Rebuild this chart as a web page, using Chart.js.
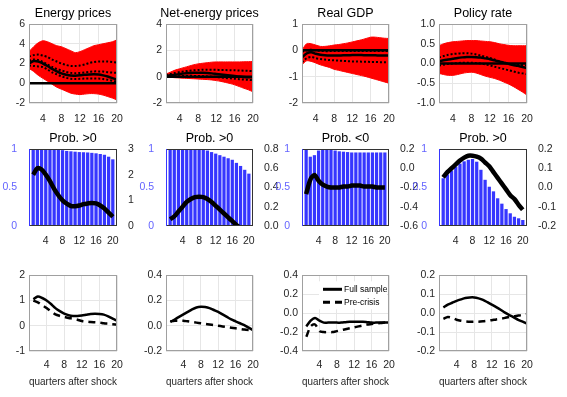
<!DOCTYPE html>
<html lang="en">
<head>
<meta charset="UTF-8">
<title>Energy price shock responses</title>
<script src="https://cdn.jsdelivr.net/npm/chart.js"></script>
<style>
  body { margin: 0; background: #fff; width: 567px; height: 397px; position: relative; overflow: hidden; }
  canvas { position: absolute; }
</style>
</head>
<body>
<script>
// ---- data ----
const quarters = [1, 2, 3, 4, 5, 6, 7, 8, 9, 10, 11, 12, 13, 14, 15, 16, 17, 18, 19, 20];
const xTicks = [4, 8, 12, 16, 20];

const titlesTop = ['Energy prices', 'Net-energy prices', 'Real GDP', 'Policy rate'];
const titlesMid = ['Prob. >0', 'Prob. >0', 'Prob. <0', 'Prob. >0'];
const xAxisTitle = 'quarters after shock';
const seriesNames = ['Full sample', 'Pre-crisis'];

// top row: y tick labels
const yTicksTop = [
  ['-2', '0', '2', '4', '6'],
  ['-2', '0', '2', '4'],
  ['-2', '-1', '0', '1'],
  ['-1.0', '-0.5', '0.0', '0.5', '1.0']
];
// middle row: left (probability) and right (response) tick labels
const yTicksProb = ['0', '0.5', '1'];
const yTicksMidRight = [
  ['0', '1', '2', '3'],
  ['0.0', '0.2', '0.4', '0.6', '0.8'],
  ['-0.6', '-0.4', '-0.2', '0.0', '0.2'],
  ['-0.2', '-0.1', '0.0', '0.1', '0.2']
];
// bottom row tick labels
const yTicksBottom = [
  ['-1', '0', '1', '2'],
  ['-0.2', '0.0', '0.2', '0.4'],
  ['-0.4', '-0.2', '0.0', '0.2', '0.4'],
  ['-0.2', '-0.1', '0.0', '0.1', '0.2']
];

// median responses (shown in top row and as line in middle row)
const medEnergy = [2.0, 2.25, 2.2, 2.0, 1.75, 1.45, 1.2, 1.0, 0.87, 0.78, 0.77, 0.8, 0.85, 0.88, 0.9, 0.88, 0.8, 0.68, 0.52, 0.36];
const medNet = [0.07, 0.1, 0.15, 0.2, 0.25, 0.28, 0.3, 0.305, 0.3, 0.28, 0.25, 0.21, 0.17, 0.13, 0.09, 0.05, 0.01, -0.02, -0.04, -0.05];
const medGdp = [-0.27, -0.12, -0.07, -0.13, -0.17, -0.19, -0.2, -0.2, -0.2, -0.19, -0.19, -0.18, -0.18, -0.18, -0.19, -0.19, -0.19, -0.2, -0.2, -0.2];
const medRate = [0.053, 0.08, 0.1, 0.12, 0.14, 0.155, 0.165, 0.165, 0.16, 0.15, 0.13, 0.11, 0.08, 0.05, 0.02, -0.01, -0.04, -0.06, -0.09, -0.115];

// red bands (upper / lower envelope)
const hiEnergy = [3.2, 3.7, 4.1, 4.3, 4.2, 4.0, 3.8, 3.7, 3.5, 3.3, 3.1, 3.2, 3.4, 3.6, 3.8, 3.9, 4.0, 4.1, 4.2, 4.4];
const loEnergy = [1.5, 1.2, 0.8, 0.5, 0.2, -0.1, -0.4, -0.6, -0.8, -1.0, -1.1, -1.15, -1.1, -1.05, -1.05, -1.1, -1.2, -1.35, -1.5, -1.7];
const hiNet = [0.2, 0.35, 0.5, 0.6, 0.7, 0.8, 0.9, 0.97, 1.02, 1.06, 1.1, 1.12, 1.12, 1.12, 1.12, 1.12, 1.12, 1.13, 1.14, 1.15];
const loNet = [-0.02, -0.05, -0.08, -0.1, -0.12, -0.14, -0.16, -0.18, -0.2, -0.22, -0.25, -0.3, -0.36, -0.44, -0.52, -0.62, -0.75, -0.88, -1.0, -1.15];
const hiGdp = [0.0, 0.25, 0.25, 0.2, 0.15, 0.15, 0.17, 0.2, 0.22, 0.25, 0.28, 0.32, 0.36, 0.4, 0.45, 0.5, 0.5, 0.48, 0.46, 0.45];
const loGdp = [-0.55, -0.4, -0.42, -0.48, -0.55, -0.6, -0.65, -0.72, -0.76, -0.8, -0.84, -0.88, -0.92, -0.96, -1.0, -1.05, -1.1, -1.15, -1.2, -1.25];
const hiRate = [0.45, 0.5, 0.53, 0.55, 0.56, 0.57, 0.58, 0.58, 0.58, 0.57, 0.56, 0.55, 0.53, 0.5, 0.48, 0.46, 0.45, 0.45, 0.45, 0.45];
const loRate = [-0.25, -0.28, -0.3, -0.3, -0.28, -0.25, -0.23, -0.22, -0.24, -0.28, -0.32, -0.35, -0.38, -0.42, -0.47, -0.52, -0.58, -0.65, -0.72, -0.8];

// dotted percentile lines
const dotsEnergy = [
  [2.7, 2.85, 2.9, 2.8, 2.65, 2.4, 2.2, 2.0, 1.85, 1.75, 1.75, 1.8, 1.9, 2.05, 2.15, 2.2, 2.2, 2.2, 2.15, 2.1],
  [2.3, 2.4, 2.35, 2.15, 1.9, 1.65, 1.45, 1.3, 1.15, 1.05, 1.02, 1.05, 1.1, 1.15, 1.2, 1.2, 1.18, 1.12, 1.08, 1.05],
  [1.8, 1.75, 1.7, 1.65, 1.4, 1.1, 0.9, 0.7, 0.55, 0.45, 0.43, 0.45, 0.47, 0.48, 0.48, 0.47, 0.42, 0.35, 0.25, 0.15]
];
const dotsNet = [
  [0.12, 0.2, 0.28, 0.35, 0.4, 0.45, 0.48, 0.5, 0.52, 0.52, 0.52, 0.52, 0.51, 0.5, 0.49, 0.48, 0.47, 0.45, 0.44, 0.42],
  [0.02, 0.02, 0.03, 0.04, 0.05, 0.06, 0.06, 0.05, 0.04, 0.02, 0.0, -0.03, -0.06, -0.1, -0.13, -0.16, -0.19, -0.22, -0.24, -0.26]
];
const dotsGdp = [
  [-0.05, 0.0, 0.02, 0.0, -0.02, -0.03, -0.03, -0.03, -0.03, -0.03, -0.03, -0.03, -0.03, -0.03, -0.03, -0.03, -0.03, -0.03, -0.03, -0.03],
  [-0.45, -0.3, -0.25, -0.3, -0.33, -0.35, -0.37, -0.38, -0.39, -0.4, -0.41, -0.42, -0.42, -0.43, -0.43, -0.44, -0.44, -0.45, -0.45, -0.45]
];
const dotsRate = [
  [0.15, 0.19, 0.22, 0.24, 0.25, 0.26, 0.26, 0.25, 0.23, 0.2, 0.17, 0.14, 0.1, 0.06, 0.03, 0.0, -0.02, -0.03, -0.04, -0.05],
  [-0.05, -0.03, -0.01, 0.0, 0.01, 0.02, 0.02, 0.02, 0.01, 0.0, -0.02, -0.05, -0.08, -0.11, -0.14, -0.17, -0.2, -0.23, -0.25, -0.27]
];

// probabilities (bars, middle row)
const probEnergy = [1, 1, 1, 1, 1, 1, 1, 0.985, 0.975, 0.97, 0.965, 0.96, 0.958, 0.955, 0.95, 0.944, 0.935, 0.925, 0.9, 0.866];
const probNet = [1, 1, 1, 1, 1, 1, 1, 1, 0.99, 0.98, 0.96, 0.94, 0.92, 0.9, 0.88, 0.86, 0.82, 0.78, 0.73, 0.68];
const probGdp = [1, 0.9, 0.92, 0.98, 0.99, 0.99, 0.99, 0.98, 0.97, 0.965, 0.96, 0.955, 0.955, 0.955, 0.955, 0.955, 0.955, 0.955, 0.955, 0.955];
const probRate = [0.62, 0.67, 0.72, 0.77, 0.81, 0.84, 0.86, 0.87, 0.835, 0.73, 0.6, 0.51, 0.45, 0.36, 0.29, 0.22, 0.165, 0.12, 0.1, 0.078];

// bottom row: full sample vs pre-crisis
const fullEnergy = [1.05, 1.16, 1.1, 1.0, 0.86, 0.7, 0.58, 0.48, 0.42, 0.39, 0.39, 0.41, 0.44, 0.47, 0.48, 0.47, 0.44, 0.37, 0.28, 0.2];
const preEnergy = [1.0, 0.93, 0.82, 0.7, 0.57, 0.45, 0.39, 0.35, 0.31, 0.28, 0.24, 0.19, 0.17, 0.15, 0.14, 0.13, 0.1, 0.08, 0.06, 0.05];
const fullNet = [0.03, 0.05, 0.07, 0.09, 0.11, 0.13, 0.145, 0.15, 0.148, 0.14, 0.125, 0.11, 0.09, 0.07, 0.05, 0.035, 0.02, 0.005, -0.015, -0.035];
const preNet = [0.035, 0.04, 0.04, 0.04, 0.035, 0.03, 0.025, 0.02, 0.015, 0.01, 0.005, 0.0, -0.005, -0.01, -0.015, -0.02, -0.025, -0.03, -0.033, -0.035];
const fullGdp = [-0.14, -0.08, -0.05, -0.08, -0.1, -0.1, -0.1, -0.1, -0.1, -0.095, -0.09, -0.09, -0.09, -0.09, -0.095, -0.1, -0.1, -0.1, -0.1, -0.1];
const preGdp = [-0.25, -0.14, -0.12, -0.19, -0.2, -0.2, -0.2, -0.19, -0.18, -0.17, -0.16, -0.15, -0.14, -0.13, -0.12, -0.115, -0.11, -0.105, -0.1, -0.1];
const fullRate = [0.03, 0.045, 0.055, 0.065, 0.073, 0.08, 0.083, 0.083, 0.078, 0.07, 0.058, 0.045, 0.032, 0.018, 0.003, -0.01, -0.022, -0.035, -0.045, -0.055];
const preRate = [-0.03, -0.02, -0.025, -0.035, -0.04, -0.043, -0.045, -0.045, -0.045, -0.043, -0.04, -0.037, -0.033, -0.03, -0.025, -0.02, -0.017, -0.013, -0.01, -0.005];

// ---- layout / style ----
const FONT = "'Liberation Sans Narrow', 'Arial Narrow', 'Liberation Sans', sans-serif";
const colLeft = [29, 166, 302, 439];
const colWidth = [88, 87, 87, 88];
const rowTop = [24, 149, 273];
const rowHeight = [79, 77, 78];
const xRange = [[1, 20], [0, 21], [0, 20]];
const xLabelPad = [10, 9, 8];
const SIDE_W = 30;   // axis width on both sides so titles centre on the plot
const TICK_SIZE = 10.5;

Chart.defaults.font.family = FONT;
Chart.defaults.elements.point.radius = 0;
Chart.defaults.elements.line.tension = 0.3;

const xy = arr => arr.map((v, i) => ({ x: quarters[i], y: v }));

// frame around plot area + optional inside legend
const framePlugin = {
  id: 'frame',
  afterDatasetsDraw(chart, args, opts) {
    const { ctx, chartArea: a } = chart;
    ctx.save();
    ctx.lineWidth = 1;
    ctx.strokeStyle = opts.color || '#a0a0a0';
    ctx.strokeRect(Math.round(a.left) + 0.5, Math.round(a.top) + 0.5,
      Math.round(a.width) - 1, Math.round(a.height) - 1);
    if (opts.leftColor) {
      ctx.strokeStyle = opts.leftColor;
      ctx.beginPath();
      ctx.moveTo(Math.round(a.left) + 0.5, a.top);
      ctx.lineTo(Math.round(a.left) + 0.5, a.bottom);
      ctx.stroke();
    }
    if (opts.legend) {
      ctx.fillStyle = '#fff';
      ctx.fillRect(a.left + 17, a.top + 6, a.width - 19, 28);
      ctx.font = '8.5px ' + FONT;
      ctx.textBaseline = 'middle';
      chart.data.datasets.forEach((ds, i) => {
        const y = a.top + 14 + i * 13;
        ctx.strokeStyle = '#000';
        ctx.lineWidth = 3;
        ctx.setLineDash(ds.borderDash || []);
        ctx.beginPath();
        ctx.moveTo(a.left + 21, y);
        ctx.lineTo(a.left + 40, y);
        ctx.stroke();
        ctx.setLineDash([]);
        ctx.fillStyle = '#000';
        ctx.fillText(ds.label, a.left + 42, y);
      });
    }
    ctx.restore();
  }
};

function yScale(labels, opts) {
  const vals = labels.map(Number);
  return Object.assign({
    min: vals[0],
    max: vals[vals.length - 1],
    afterBuildTicks: s => { s.ticks = vals.map(v => ({ value: v })); },
    afterFit: s => { s.width = SIDE_W; },
    grid: { color: '#e6e6e6', drawTicks: false },
    border: { display: false },
    ticks: { padding: 4, color: '#262626', font: { size: TICK_SIZE }, callback: (v, i) => labels[i] }
  }, opts);
}

function makePanel(row, col, datasets, yLabels, extra) {
  const w = colWidth[col], h = rowHeight[row];
  const topH = row < 2 ? 20 : 8;
  const bottomH = row === 2 ? 42 : 20;
  const cv = document.createElement('canvas');
  cv.width = SIDE_W + w + SIDE_W;
  cv.height = topH + h + bottomH;
  cv.style.left = (colLeft[col] - SIDE_W) + 'px';
  cv.style.top = (rowTop[row] - topH) + 'px';
  document.body.appendChild(cv);

  const scales = {
    x: {
      type: 'linear',
      min: xRange[row][0],
      max: xRange[row][1],
      offset: false,
      afterBuildTicks: s => { s.ticks = xTicks.map(v => ({ value: v })); },
      afterFit: s => { s.height = bottomH; },
      grid: { display: row !== 1, color: '#e6e6e6', drawTicks: false, offset: false },
      border: { display: false },
      ticks: { padding: xLabelPad[row], color: '#262626', font: { size: TICK_SIZE }, maxRotation: 0, autoSkip: false },
      title: {
        display: row === 2, text: xAxisTitle, color: '#262626',
        font: { size: 10.5 }, padding: { top: 0, bottom: 5 }
      }
    },
    y: yScale(yLabels, row === 1 ? {
      grid: { display: false },
      ticks: { padding: 4, color: '#6464ff', font: { size: TICK_SIZE }, callback: (v, i) => yLabels[i] }
    } : {})
  };
  const r = extra && extra.right;
  // right axis: real labels in the middle row, an empty spacer elsewhere
  scales.y2 = yScale(r || ['0', '1'], {
    position: 'right',
    grid: { display: false },
    ticks: r
      ? { padding: 3, color: '#262626', font: { size: TICK_SIZE }, callback: (v, i) => r[i] }
      : { display: false }
  });

  new Chart(cv.getContext('2d'), {
    type: row === 1 ? 'bar' : 'line',
    data: { datasets },
    options: {
      responsive: false,
      animation: false,
      layout: { padding: { top: row === 2 ? 8 : 0, right: 0, left: 0, bottom: 0 } },
      scales,
      plugins: {
        legend: { display: false },
        tooltip: { enabled: false },
        title: {
          display: row < 2,
          text: extra && extra.title,
          color: '#000',
          font: { size: 12.5, weight: 'normal', lineHeight: 1 },
          padding: { top: 3, bottom: 4.5 }
        },
        frame: {
          color: row === 1 ? '#333' : '#a0a0a0',
          leftColor: row === 1 ? '#3636ff' : null,
          legend: extra && extra.legend
        }
      }
    },
    plugins: [framePlugin]
  });
}

function bandSets(hi, lo, dots, med) {
  return [
    { data: xy(med), borderColor: '#000', borderWidth: 2.5, order: 1 },
    ...dots.map(d => ({ data: xy(d), borderColor: '#000', borderWidth: 2, borderDash: [2, 2], order: 2 })),
    { data: xy(hi.map(() => 0)), borderColor: '#000', borderWidth: 2.5, tension: 0, order: 3 },
    { data: xy(hi), borderColor: '#ff0000', borderWidth: 1, backgroundColor: '#ff0000', fill: '+1', order: 4 },
    { data: xy(lo), borderColor: '#ff0000', borderWidth: 1, order: 5 }
  ];
}

function probSets(prob, line) {
  return [
    { type: 'line', data: xy(line), yAxisID: 'y2', borderColor: '#000', borderWidth: 4.5, order: 0 },
    { type: 'bar', data: xy(prob), yAxisID: 'y', backgroundColor: '#3636ff',
      barPercentage: 0.78, categoryPercentage: 1, order: 1 }
  ];
}

function compareSets(full, pre) {
  return [
    { label: seriesNames[0], data: xy(full), borderColor: '#000', borderWidth: 2.5 },
    { label: seriesNames[1], data: xy(pre), borderColor: '#000', borderWidth: 2.5, borderDash: [7, 5] }
  ];
}

// top row
makePanel(0, 0, bandSets(hiEnergy, loEnergy, dotsEnergy, medEnergy), yTicksTop[0], { title: titlesTop[0] });
makePanel(0, 1, bandSets(hiNet, loNet, dotsNet, medNet), yTicksTop[1], { title: titlesTop[1] });
makePanel(0, 2, bandSets(hiGdp, loGdp, dotsGdp, medGdp), yTicksTop[2], { title: titlesTop[2] });
makePanel(0, 3, bandSets(hiRate, loRate, dotsRate, medRate), yTicksTop[3], { title: titlesTop[3] });

// middle row
makePanel(1, 0, probSets(probEnergy, medEnergy), yTicksProb, { title: titlesMid[0], right: yTicksMidRight[0] });
makePanel(1, 1, probSets(probNet, medNet), yTicksProb, { title: titlesMid[1], right: yTicksMidRight[1] });
makePanel(1, 2, probSets(probGdp, medGdp), yTicksProb, { title: titlesMid[2], right: yTicksMidRight[2] });
makePanel(1, 3, probSets(probRate, medRate), yTicksProb, { title: titlesMid[3], right: yTicksMidRight[3] });

// bottom row
makePanel(2, 0, compareSets(fullEnergy, preEnergy), yTicksBottom[0]);
makePanel(2, 1, compareSets(fullNet, preNet), yTicksBottom[1]);
makePanel(2, 2, compareSets(fullGdp, preGdp), yTicksBottom[2], { legend: true });
makePanel(2, 3, compareSets(fullRate, preRate), yTicksBottom[3]);
</script>
</body>
</html>
